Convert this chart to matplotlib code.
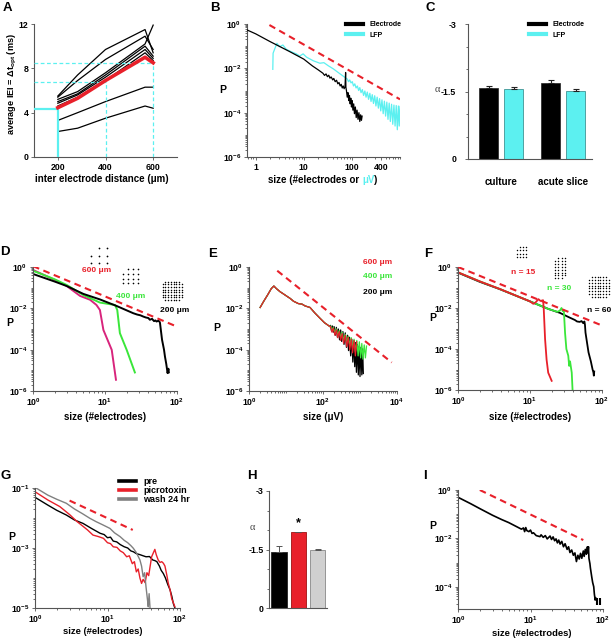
import numpy as np
import matplotlib
matplotlib.use('Agg')
import matplotlib.pyplot as plt
from matplotlib.ticker import FixedLocator, NullFormatter, FuncFormatter, LogLocator, MultipleLocator, FixedFormatter
from matplotlib.lines import Line2D

plt.rcParams['font.family'] = ['Liberation Sans', 'DejaVu Sans']
plt.rcParams['font.weight'] = 'bold'
plt.rcParams['axes.unicode_minus'] = False
plt.rcParams['mathtext.fontset'] = 'custom'
plt.rcParams['mathtext.rm'] = 'Liberation Sans:bold'
plt.rcParams['mathtext.bf'] = 'Liberation Sans:bold'
plt.rcParams['mathtext.it'] = 'Liberation Sans:bold'

# ---------------- data ----------------
# Panel A
A_dist = [200, 283, 400, 566, 600]
A_black = [
    [5.5, 7.4, 9.7, 11.5, 9.4],
    [5.4, 6.9, 8.8, 10.9, 9.7],
    [5.2, 5.9, 7.6, 10.2, 11.9],
    [5.0, 5.7, 7.4, 10.0, 9.1],
    [4.85, 5.6, 7.2, 9.7, 8.9],
    [4.6, 5.4, 6.9, 9.4, 8.7],
    [3.3, 4.0, 5.0, 6.3, 6.3],
    [2.3, 2.6, 3.5, 4.6, 4.4],
]
A_red = [4.45, 5.3, 6.9, 9.0, 8.5]
A_ref_dist = [200, 400, 600]
A_ref_iei = [4.3, 6.8, 8.5]

# Panel B
B_elec_x = [0.66, 1, 2, 5, 10, 15, 20, 25, 27, 29, 31, 33, 35, 37, 40, 42, 45, 48, 51, 54, 57, 60,
            63, 66, 69, 72, 74, 75, 77, 80, 83, 86, 89, 92, 95, 98, 101, 105, 109, 113, 118, 123,
            128, 134, 140, 146, 152, 158, 163]
B_elec_y = [0.54, 0.36, 0.16, 0.058, 0.026, 0.013, 8.5e-3, 6.0e-3, 4.8e-3, 5.6e-3, 4.2e-3, 4.9e-3,
            3.6e-3, 4.1e-3, 3.0e-3, 3.5e-3, 2.5e-3, 2.9e-3, 2.0e-3, 2.3e-3, 1.6e-3, 1.9e-3, 1.3e-3,
            1.6e-3, 1.2e-3, 1.5e-3, 6.5e-3, 1.4e-3, 1.0e-3, 5e-4, 8e-4, 3.5e-4, 6e-4, 2.5e-4, 4.5e-4,
            1.8e-4, 3.5e-4, 1.3e-4, 2.5e-4, 9e-5, 1.8e-4, 6e-5, 1.3e-4, 5e-5, 1e-4, 4e-5, 8e-5, 4.5e-5, 7e-5]
B_lfp_x = [2.27, 2.3, 2.76, 3.14, 3.68, 4.33, 5.51, 7.0, 8.24, 9.68, 11.4, 15.7, 21.6, 26.2, 32.4,
           41.3, 56.9, 80, 85, 90, 96, 102, 108, 115, 122, 130, 138, 146, 155, 165, 175, 186, 197,
           209, 222, 236, 250, 265, 281, 298, 316, 335, 355, 376, 398, 422, 447, 474, 502, 532,
           563, 596, 630, 668, 707, 748, 790, 835, 880, 925, 965, 1000]
B_lfp_y = [0.009, 0.048, 0.135, 0.095, 0.113, 0.072, 0.056, 0.045, 0.036, 0.045, 0.032, 0.022, 0.017,
           0.018, 0.013, 9.4e-3, 5.6e-3, 3.3e-3, 2.5e-3, 3.0e-3, 2.2e-3, 2.5e-3, 1.6e-3, 2.0e-3,
           1.3e-3, 1.6e-3, 1.0e-3, 1.35e-3, 8e-4, 1.1e-3, 6e-4, 9.5e-4, 5e-4, 8.5e-4, 4e-4, 7.5e-4,
           3.2e-4, 6.5e-4, 2.6e-4, 5.8e-4, 2e-4, 5e-4, 1.6e-4, 4.3e-4, 1.2e-4, 3.8e-4, 9e-5, 3.3e-4,
           7e-5, 3e-4, 5e-5, 2.7e-4, 4e-5, 2.4e-4, 3e-5, 2.2e-4, 2.5e-5, 2.1e-4, 1.7e-5, 2e-4,
           2.5e-5, 1.9e-4]
B_fit_x = [1.93, 1000]
B_fit_y = [0.9, 4e-4]

# Panel C
C_groups = ['culture', 'acute slice']
C_elec = [-1.57, -1.70]
C_elec_err = [0.06, 0.06]
C_lfp = [-1.55, -1.52]
C_lfp_err = [0.04, 0.03]

# Panel D
D200_x = [1.0, 2.02, 2.94, 5.0, 8.5, 14.5, 24.7, 28, 31, 34, 37, 40, 42, 45, 48, 50, 52, 55, 57,
          58, 62, 66, 68, 71, 74, 76, 77]
D200_y = [0.46, 0.195, 0.12, 0.05, 0.027, 0.013, 5.8e-3, 5.0e-3, 4.6e-3, 4.0e-3, 3.6e-3, 3.4e-3,
          2.8e-3, 3.1e-3, 2.4e-3, 2.6e-3, 2.3e-3, 2.5e-3, 2.3e-3, 2.0e-3, 3e-4, 1e-4, 4.7e-5,
          2e-5, 7.3e-6, 1.2e-5, 8e-6]
D400_x = [1.0, 2.02, 2.94, 5.0, 8.5, 13.8, 14.8, 16.1, 20, 26]
D400_y = [0.66, 0.25, 0.135, 0.044, 0.019, 0.0145, 8.3e-3, 6.3e-4, 9.8e-5, 7.9e-6]
D600_x = [1.0, 2.02, 2.94, 4.5, 6.2, 7.6, 8.5, 9.5, 12.4, 14.2]
D600_y = [0.72, 0.235, 0.12, 0.04, 0.026, 0.0146, 8.3e-3, 9e-4, 9.8e-5, 3.5e-6]
D_fit_x = [1.0, 100]
D_fit_y = [1.1, 1.3e-3]
D_labels = ['600 \u03bcm', '400 \u03bcm', '200 \u03bcm']

# Panel E
E_head_x = [2.0, 2.5, 3.2, 4.0, 4.7, 5.5, 6.9, 8.5, 10.9, 13, 16, 21.5, 27, 33, 44.6, 60, 83, 110, 155]
E_head_y = [0.011, 0.022, 0.045, 0.09, 0.12, 0.09, 0.064, 0.05, 0.037, 0.03, 0.022, 0.017, 0.016,
            0.013, 0.011, 6e-3, 3.3e-3, 2e-3, 1.3e-3]
E200_tail_x = [160, 170, 180, 190, 200, 215, 230, 245, 260, 280, 300, 320, 345, 370, 400, 430, 460,
               490, 520, 560, 600, 640, 680, 720, 760, 800, 850, 900, 950, 1000, 1060, 1120, 1180, 1230]
E200_tail_y = [1.5e-3, 8e-4, 1.4e-3, 7e-4, 1.3e-3, 5e-4, 1.2e-3, 4e-4, 1.0e-3, 3e-4, 9e-4, 2.5e-4,
               7.5e-4, 1.8e-4, 6.5e-4, 1.3e-4, 5e-4, 9e-5, 4e-4, 5e-5, 3.2e-4, 2.5e-5, 2.6e-4, 1.5e-5,
               2.2e-4, 8e-6, 1.8e-4, 6e-6, 1.5e-4, 5e-6, 1.3e-4, 6e-6, 1.1e-4, 7e-6]
E400_tail_x = [160, 175, 190, 210, 230, 250, 275, 300, 330, 360, 400, 440, 480, 530, 580, 630, 690,
               750, 820, 890, 960, 1040, 1120, 1200, 1300, 1400, 1500]
E400_tail_y = [1.4e-3, 9e-4, 1.2e-3, 6.5e-4, 1.0e-3, 5e-4, 8.5e-4, 3.8e-4, 7e-4, 3e-4, 5.5e-4, 2.2e-4,
               4.5e-4, 1.7e-4, 3.8e-4, 1.2e-4, 3.2e-4, 8e-5, 2.8e-4, 5e-5, 2.4e-4, 4e-5, 2e-4, 3.5e-5,
               1.7e-4, 4e-5, 1.5e-4]
E600_tail_x = [160, 175, 190, 210, 230, 250, 275, 300, 330, 360, 400, 440, 480, 530, 580, 630, 690, 750, 810]
E600_tail_y = [1.3e-3, 7e-4, 1.1e-3, 5e-4, 9e-4, 3.8e-4, 7.5e-4, 2.8e-4, 6e-4, 2e-4, 5e-4, 1.4e-4,
               4e-4, 1e-4, 3.3e-4, 7e-5, 2.8e-4, 5e-5, 2.4e-4]
E_fit_x = [5.8, 7200]
E_fit_y = [0.66, 2.4e-5]

# Panel F
F60_x = [1, 2, 3.8, 10, 18, 26, 35, 42, 45, 49, 52, 55, 57, 58, 59, 62, 65, 70, 74, 76, 77, 78]
F60_y = [0.53, 0.19, 0.083, 0.021, 9e-3, 5.8e-3, 3.5e-3, 2.6e-3, 2.2e-3, 2.1e-3, 2.3e-3, 1.8e-3,
         2.2e-3, 1.5e-3, 6.3e-4, 2e-4, 6.8e-5, 2.5e-5, 1e-5, 7.2e-6, 5e-6, 8e-6]
F15_x = [1, 2, 3.8, 10, 11.1, 12, 13.1, 14, 15.2, 15.5, 16.2, 17, 17.9, 20]
F15_y = [0.55, 0.2, 0.085, 0.021, 0.016, 0.019, 0.027, 0.022, 0.024, 0.01, 3e-4, 3e-5, 7e-6, 2.8e-6]
F30_x = [1, 2, 3.8, 10, 18, 24, 26, 27.4, 28.5, 29.5, 30.7, 32, 34, 35, 36, 38, 39]
F30_y = [0.55, 0.2, 0.085, 0.021, 9e-3, 6.5e-3, 7.5e-3, 0.01, 7e-3, 8e-3, 6e-4, 1e-4, 4.7e-5,
         1.5e-5, 2.5e-5, 7e-6, 1e-6]
F_fit_x = [1.0, 100]
F_fit_y = [1.0, 1.4e-3]
F_labels = ['n = 15', 'n = 30', 'n = 60']

# Panel G
G_pre_x = [1, 1.5, 2, 2.7, 3.5, 4.6, 6, 7.9, 9, 10, 11, 12, 13.4, 15, 17, 19, 21, 22.7, 25, 28, 31,
           34, 38, 42, 45, 48, 52, 55, 59, 63, 68, 73, 77, 81, 85]
G_pre_y = [0.049, 0.027, 0.018, 0.0126, 8.6e-3, 6.6e-3, 4.5e-3, 3.1e-3, 2.8e-3, 2.2e-3, 2.3e-3,
           1.7e-3, 1.6e-3, 1.3e-3, 1.1e-3, 1.0e-3, 8e-4, 7.5e-4, 6.5e-4, 6e-4, 5.5e-4, 5.1e-4,
           5.2e-4, 4e-4, 3.8e-4, 3.5e-4, 2.5e-4, 1.8e-4, 1.4e-4, 1e-4, 6e-5, 4e-5, 2.5e-5, 1.4e-5, 1e-5]
G_pic_x = [1, 1.5, 2.2, 3, 3.8, 4.5, 5.3, 6.3, 7.5, 8.8, 10, 11, 12, 13.5, 15, 16.5, 18.4, 20, 22,
           23.5, 25, 26.5, 28, 29.5, 31, 33, 35, 37, 40.6, 43, 45, 47, 50, 53, 56, 59, 62, 66, 69,
           73, 77, 81, 85]
G_pic_y = [0.075, 0.04, 0.024, 0.013, 7.6e-3, 5.5e-3, 4e-3, 2.7e-3, 2.4e-3, 2.1e-3, 1.5e-3, 1.4e-3,
           1.1e-3, 1.05e-3, 8e-4, 7e-4, 5.1e-4, 5.5e-4, 3e-4, 3.5e-4, 1.6e-4, 2e-4, 1e-4, 6.6e-5,
           9e-5, 7e-5, 1.5e-4, 1.2e-4, 5.1e-4, 7e-4, 9e-4, 6e-4, 4e-4, 3.3e-4, 3.5e-4, 3.1e-4,
           2.5e-4, 1.2e-4, 6.6e-5, 4e-5, 2e-5, 1.5e-5, 1.1e-5]
G_wash_x = [1, 1.5, 2, 2.7, 3.5, 4.5, 5.7, 7, 8.5, 10.8, 12.5, 14.9, 17, 19, 21, 22.7, 25, 28, 29.5,
            31, 32.5, 34, 35.5, 36.5, 37.5, 38.6]
G_wash_y = [0.105, 0.058, 0.042, 0.031, 0.02, 0.014, 9.8e-3, 7.5e-3, 6e-3, 4.5e-3, 3.2e-3, 2.4e-3,
            1.8e-3, 1.5e-3, 1.2e-3, 9.8e-4, 7e-4, 4e-4, 2.5e-4, 1.1e-4, 1.5e-4, 5e-5, 2e-5,
            1.1e-5, 3e-5, 1e-5]
G_fit_x = [3.0, 22.3]
G_fit_y = [0.038, 4e-3]
G_names = ['pre', 'picrotoxin', 'wash 24 hr']

# Panel H
H_vals = [-1.44, -1.94, -1.50]
H_err = [0.15, 0.02, 0.02]
H_signif = [False, True, False]

# Panel I
I_x = [1, 1.5, 2, 3, 4, 5, 6.5, 7.5, 8, 8.3, 8.6, 8.9, 9.5, 10, 10.5, 11, 12, 13.5, 14, 15, 16, 17,
       18.6, 19.5, 20.5, 21.5, 22.5, 23.5, 24.5, 25.6, 27, 28.5, 30, 32, 33.5, 35, 37, 39, 41, 43,
       45, 47, 49, 51, 53.5, 55, 57, 59, 61, 62, 63, 64, 66, 67, 70, 72, 74.5, 76, 78, 79]
I_y = [0.5, 0.27, 0.17, 0.09, 0.06, 0.045, 0.03, 0.024, 0.027, 0.019, 0.028, 0.021, 0.019, 0.022,
       0.016, 0.017, 0.013, 0.0118, 0.014, 0.011, 0.013, 0.0095, 0.0125, 0.009, 0.0115, 0.008,
       0.0095, 0.0065, 0.0085, 0.0058, 0.0075, 0.0045, 0.006, 0.0035, 0.0045, 0.0026, 0.0033,
       0.002, 0.0025, 0.0011, 0.002, 0.0014, 0.0024, 0.0015, 0.003, 0.0018, 0.0035, 0.0022,
       0.0045, 0.0025, 0.0045, 0.0015, 9e-4, 6e-4, 2.5e-4, 1.5e-4, 1e-4, 5e-5, 2.8e-5, 3.5e-5]
I_tail_x = [83, 92]
I_tail_lo = [1.7e-5, 1.7e-5]
I_tail_hi = [3.5e-5, 3.5e-5]
I_fit_x = [2.0, 53.5]
I_fit_y = [1.0, 8.5e-3]

# electrode layouts for icons: (ncols, nrows, missing (col,row))
ICON_SPARSE = (3, 3, [(0, 0)])
ICON_MID = (4, 4, [(0, 0)])
ICON_FULL = (8, 8, [(0, 0), (7, 0), (0, 7), (7, 7)])
ICON_N15 = (4, 4, [(0, 0)])
ICON_N30 = (4, 8, [(0, 0), (3, 7)])

# ---------------- style ----------------
BLACK = '#000000'
RED = '#e8202a'
CYAN = '#5cf0f0'
GREEN = '#3ae63a'
MAGENTA = '#d8247c'
GREY = '#808080'
SPINE = '#555555'
TICKFS = 6.3
LABFS = 7

W, H = 612, 640
fig = plt.figure(figsize=(W / 100, H / 100), dpi=100)
fig.patch.set_facecolor('white')


def rect(l, r, t, b):
    return [l / W, 1 - b / H, (r - l) / W, (b - t) / H]


def ftext(px, py, s, **kw):
    kw.setdefault('fontsize', LABFS)
    kw.setdefault('fontweight', 'bold')
    kw.setdefault('ha', 'center')
    kw.setdefault('va', 'center')
    return fig.text(px / W, 1 - py / H, s, **kw)


def style(ax):
    for s in ['top', 'right']:
        ax.spines[s].set_visible(False)
    for s in ['left', 'bottom']:
        ax.spines[s].set_color(SPINE)
        ax.spines[s].set_linewidth(0.8)
    ax.tick_params(which='both', direction='out', colors=SPINE, labelcolor='k',
                   labelsize=TICKFS, width=0.6)
    ax.tick_params(which='major', length=2.5, pad=1.5)
    ax.tick_params(which='minor', length=1.5)


def pow_fmt(v, p):
    return r'$\mathbf{10^{%d}}$' % int(round(np.log10(v)))


def log_axes(ax, xlim, ylim, xmaj, ymaj, xfmt=None):
    ax.set_xscale('log')
    ax.set_yscale('log')
    ax.set_xlim(xlim)
    ax.set_ylim(ylim)
    ax.xaxis.set_major_locator(FixedLocator(xmaj))
    ax.yaxis.set_major_locator(FixedLocator(ymaj))
    for a in (ax.xaxis, ax.yaxis):
        a.set_minor_locator(LogLocator(base=10, subs=np.arange(1, 10), numticks=100))
        a.set_minor_formatter(NullFormatter())
    ax.xaxis.set_major_formatter(xfmt if xfmt is not None else FuncFormatter(pow_fmt))
    ax.yaxis.set_major_formatter(FuncFormatter(pow_fmt))
    style(ax)


def fit_line(ax, x, y):
    ax.plot(x, y, color=RED, lw=1.5, ls=(0, (3.2, 2.2)), zorder=5)


def icon(l, r, t, b, layout, s=1.3):
    ncols, nrows, missing = layout
    ax = fig.add_axes(rect(l, r, t, b))
    cols, rows = np.meshgrid(np.arange(ncols), np.arange(nrows))
    cols, rows = cols.ravel(), rows.ravel()
    keep = np.array([(c, r_) not in missing for c, r_ in zip(cols, rows)])
    ax.scatter(cols[keep], rows[keep], s=s, c='k', lw=0)
    ax.set_xlim(-0.5, ncols - 0.5)
    ax.set_ylim(nrows - 0.5, -0.5)
    ax.axis('off')


def multicolor(cx, cy, parts, fs):
    r = fig.canvas.get_renderer()
    texts, widths = [], []
    for s, c in parts:
        t = ftext(0, 0, s, color=c, fontsize=fs, ha='left')
        widths.append(t.get_window_extent(renderer=r).width)
        texts.append(t)
    x = cx - sum(widths) / 2
    for t, w in zip(texts, widths):
        t.set_position((x / W, 1 - cy / H))
        x += w


# ---------------- Panel A ----------------
axA = fig.add_axes(rect(34, 177, 24, 157))
axA.set_xlim(100, 700)
axA.set_ylim(0, 12)
for ys in A_black:
    axA.plot(A_dist, ys, color=BLACK, lw=0.9)
axA.plot(A_dist, A_red, color=RED, lw=2.6, zorder=4)
for i, (d, v) in enumerate(zip(A_ref_dist, A_ref_iei)):
    if i == 0:
        axA.hlines(v, 100, d, color=CYAN, lw=1.6, zorder=3)
        axA.vlines(d, 0, v, color=CYAN, lw=1.6, zorder=3)
    else:
        axA.hlines(v, 100, d, color=CYAN, lw=0.9, ls=(0, (3, 2)), zorder=3)
        axA.vlines(d, 0, v, color=CYAN, lw=0.9, ls=(0, (3, 2)), zorder=3)
axA.set_xticks([200, 400, 600])
axA.set_yticks([0, 4, 8, 12])
style(axA)
ftext(102, 179, 'inter electrode distance (\u03bcm)')
ftext(12, 84, r'average IEI = $\mathbf{\Delta t_{opt}}$ (ms)', rotation=90, fontsize=6.6)

# ---------------- Panel B ----------------
axB = fig.add_axes(rect(247, 400, 24, 157))
axB.plot(B_lfp_x, B_lfp_y, color=CYAN, lw=0.9, label='LFP', zorder=2)
axB.plot(B_elec_x, B_elec_y, color=BLACK, lw=0.9, label='Electrode', zorder=3)
fit_line(axB, B_fit_x, B_fit_y)
log_axes(axB, (0.66, 1000), (1e-6, 1), [1, 10, 100, 400], [1, 1e-2, 1e-4, 1e-6],
         xfmt=FixedFormatter(['1', '10', '100', '400']))
hB = [Line2D([], [], color=BLACK, lw=3), Line2D([], [], color=CYAN, lw=3)]
axB.legend(hB, ['Electrode', 'LFP'], loc='upper left', bbox_to_anchor=(346 / W, 1 - 21 / H),
           bbox_transform=fig.transFigure, frameon=False, fontsize=5, handlelength=2.4,
           handletextpad=1.0, labelspacing=0.55, borderpad=0, borderaxespad=0)
multicolor(323, 180, [('size (#electrodes or ', BLACK), ('\u03bcV', CYAN), (')', BLACK)], LABFS)
ftext(223, 90, 'P', fontsize=7.5)

# ---------------- Panel C ----------------
axC = fig.add_axes(rect(468, 592, 24, 159))
c_centers = np.array([1.675, 4.775])
off = 0.625
axC.bar(c_centers - off, C_elec, width=0.95, color=BLACK, edgecolor='#222222', lw=0.5)
axC.bar(c_centers + off, C_lfp, width=0.95, color=CYAN, edgecolor='#2a8080', lw=0.5)
axC.errorbar(c_centers - off, C_elec, yerr=[C_elec_err, [0, 0]], fmt='none', ecolor='#222222',
             elinewidth=0.8, capsize=2.5, capthick=0.8)
axC.errorbar(c_centers + off, C_lfp, yerr=[C_lfp_err, [0, 0]], fmt='none', ecolor='#222222',
             elinewidth=0.8, capsize=2.5, capthick=0.8)
axC.set_xlim(0, 6.2)
axC.set_ylim(0, -3)
axC.set_yticks([-3, -1.5, 0])
axC.set_yticklabels(['-3', '-1.5', '0'])
axC.yaxis.set_minor_locator(MultipleLocator(0.5))
axC.set_xticks(c_centers)
axC.set_xticklabels(C_groups)
style(axC)
axC.tick_params(axis='x', length=0, pad=13, labelsize=7)
axC.tick_params(axis='y', which='major', pad=6)
hC = [Line2D([], [], color=BLACK, lw=3), Line2D([], [], color=CYAN, lw=3)]
axC.legend(hC, ['Electrode', 'LFP'], loc='upper left', bbox_to_anchor=(529 / W, 1 - 21 / H),
           bbox_transform=fig.transFigure, frameon=False, fontsize=5, handlelength=2.4,
           handletextpad=1.0, labelspacing=0.55, borderpad=0, borderaxespad=0)
ftext(437, 90, '\u03b1', family=['Liberation Serif', 'DejaVu Serif'], fontweight='normal',
      fontsize=7.5, color='#444444')

# ---------------- Panel D ----------------
axD = fig.add_axes(rect(33, 177, 267, 391))
axD.plot(D600_x, D600_y, color=MAGENTA, lw=1.4)
axD.plot(D400_x, D400_y, color=GREEN, lw=1.4)
axD.plot(D200_x, D200_y, color=BLACK, lw=1.4)
fit_line(axD, D_fit_x, D_fit_y)
log_axes(axD, (1, 100), (1e-6, 1), [1, 10, 100], [1, 1e-2, 1e-4, 1e-6])
for (px, py, c), s in zip([(97, 271, RED), (131, 297, GREEN), (175, 311, BLACK)], D_labels):
    ftext(px, py, s, color=c, fontsize=6)
icon(87, 110.6, 244.5, 267, ICON_SPARSE, s=1.6)
icon(120, 141, 267, 285.7, ICON_MID, s=1.4)
icon(161.3, 183, 280.4, 301.3, ICON_FULL, s=1.2)
ftext(105, 417, 'size (#electrodes)')
ftext(10, 323, 'P', fontsize=7.5)

# ---------------- Panel E ----------------
axE = fig.add_axes(rect(249, 397, 267, 391))
axE.plot(E_head_x + E200_tail_x, E_head_y + E200_tail_y, color=BLACK, lw=0.9)
axE.plot(E_head_x + E400_tail_x, E_head_y + E400_tail_y, color=GREEN, lw=0.9)
axE.plot(E_head_x + E600_tail_x, E_head_y + E600_tail_y, color=RED, lw=0.9)
fit_line(axE, E_fit_x, E_fit_y)
log_axes(axE, (1, 1e4), (1e-6, 1), [1, 100, 1e4], [1, 1e-2, 1e-4, 1e-6])
for py, c, s in zip([262, 277, 292], [RED, GREEN, BLACK], D_labels):
    ftext(363, py, s, color=c, fontsize=6, ha='left')
ftext(323, 417, 'size (\u03bcV)')
ftext(217, 328, 'P', fontsize=7.5)

# ---------------- Panel F ----------------
axF = fig.add_axes(rect(458, 602, 267, 390))
axF.plot(F60_x, F60_y, color=BLACK, lw=1.3)
axF.plot(F30_x, F30_y, color=GREEN, lw=1.3)
axF.plot(F15_x, F15_y, color=RED, lw=1.3)
fit_line(axF, F_fit_x, F_fit_y)
log_axes(axF, (1, 100), (1e-6, 1), [1, 10, 100], [1, 1e-2, 1e-4, 1e-6])
for (px, py, c), s in zip([(523, 273, RED), (559, 289, GREEN), (599, 310, BLACK)], F_labels):
    ftext(px, py, s, color=c, fontsize=6)
icon(515.2, 527.5, 245.7, 258.3, ICON_N15, s=1.1)
icon(553.3, 566.7, 256.9, 279.7, ICON_N30, s=1.1)
icon(587.6, 610.4, 275.6, 298.4, ICON_FULL, s=1.1)
ftext(530, 417, 'size (#electrodes)')
ftext(433, 318, 'P', fontsize=7.5)

# ---------------- Panel G ----------------
axG = fig.add_axes(rect(35, 180, 488, 608))
lg1, = axG.plot(G_pre_x, G_pre_y, color=BLACK, lw=1.0)
lg2, = axG.plot(G_pic_x, G_pic_y, color=RED, lw=1.0)
lg3, = axG.plot(G_wash_x, G_wash_y, color=GREY, lw=1.0)
fit_line(axG, G_fit_x, G_fit_y)
log_axes(axG, (1, 100), (1e-5, 0.1), [1, 10, 100], [1e-1, 1e-3, 1e-5])
axG.tick_params(axis='x', which='major', pad=1)
hG = [Line2D([], [], color=c, lw=2.6) for c in (BLACK, RED, GREY)]
axG.legend(hG, G_names, loc='upper left', bbox_to_anchor=(119 / W, 1 - 477 / H),
           bbox_transform=fig.transFigure, frameon=False, fontsize=6.5, handlelength=1.9,
           handletextpad=0.8, labelspacing=0.0, borderpad=0, borderaxespad=0)
ftext(103, 631, 'size (#electrodes)', fontsize=6.8)
ftext(12, 537, 'P', fontsize=7.5)

# ---------------- Panel H ----------------
axH = fig.add_axes(rect(269, 327, 491, 608))
h_pos = np.array([0.65, 1.89, 3.14])
axH.bar(h_pos, H_vals, width=1.0, color=[BLACK, RED, '#d0d0d0'],
        edgecolor=['#222222', '#a01010', '#888888'], lw=0.6)
axH.errorbar(h_pos, H_vals, yerr=[H_err, [0, 0, 0]], fmt='none', ecolor='#555555',
             elinewidth=0.7, capsize=2.0, capthick=0.7)
for xp, v, e, sg in zip(h_pos, H_vals, H_err, H_signif):
    if sg:
        axH.text(xp, v - e - 0.22, '*', ha='center', va='center', fontsize=9, fontweight='bold')
axH.set_xlim(0, 3.74)
axH.set_ylim(0, -3)
axH.set_yticks([-3, -1.5, 0])
axH.set_yticklabels(['-3', '-1.5', '0'])
axH.yaxis.set_minor_locator(MultipleLocator(0.5))
axH.set_xticks([])
style(axH)
ftext(252, 528, '\u03b1', family=['Liberation Serif', 'DejaVu Serif'], fontweight='normal',
      fontsize=7.5, color='#444444')

# ---------------- Panel I ----------------
axI = fig.add_axes(rect(458, 603, 490, 609))
axI.plot(I_x, I_y, color=BLACK, lw=1.2)
axI.vlines(I_tail_x, I_tail_lo, I_tail_hi, color=BLACK, lw=1.5)
fit_line(axI, I_fit_x, I_fit_y)
log_axes(axI, (1, 100), (1.2e-5, 1), [1, 10, 100], [1, 1e-2, 1e-4])
axI.tick_params(axis='x', which='major', pad=1)
ftext(532, 633, 'size (#electrodes)', fontsize=6.8)
ftext(433, 526, 'P', fontsize=7.5)

# ---------------- panel letters ----------------
for s, px, py in [('A', 7, 8), ('B', 215, 8), ('C', 430, 8), ('D', 5, 252), ('E', 213, 254),
                  ('F', 428, 254), ('G', 6, 476), ('H', 252, 476), ('I', 425, 476)]:
    ftext(px, py, s, fontsize=9.5)

fig.savefig('out.png', dpi=100, facecolor='white')
